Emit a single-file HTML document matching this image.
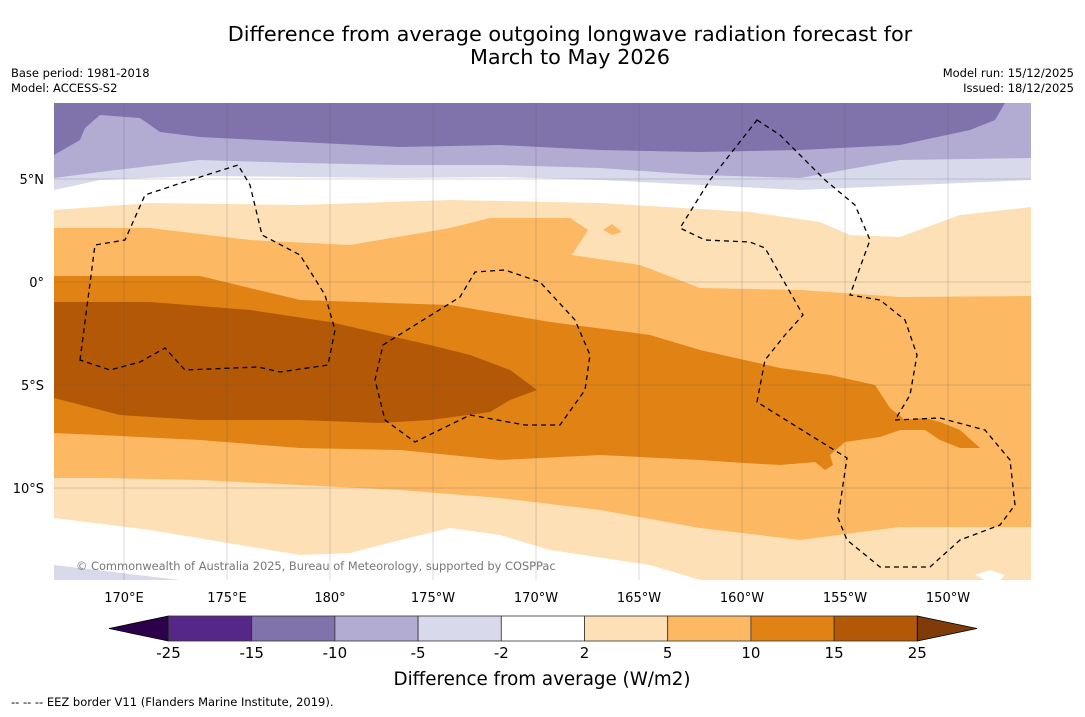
<!DOCTYPE html>
<html><head><meta charset="utf-8"><style>
body{margin:0;background:#fff;width:1085px;height:713px;overflow:hidden;font-family:"DejaVu Sans","Liberation Sans",sans-serif;}
svg text{font-family:"DejaVu Sans","Liberation Sans",sans-serif;}
</style></head><body>
<svg width="1085" height="713">
<text x="570" y="41" font-size="20.8" text-anchor="middle">Difference from average outgoing longwave radiation forecast for</text>
<text x="570" y="64" font-size="20.8" text-anchor="middle">March to May 2026</text>
<text x="11" y="77" font-size="11.5">Base period: 1981-2018</text>
<text x="11" y="92" font-size="11.5">Model: ACCESS-S2</text>
<text x="1074" y="77" font-size="11.5" text-anchor="end">Model run: 15/12/2025</text>
<text x="1074" y="92" font-size="11.5" text-anchor="end">Issued: 18/12/2025</text>
<defs><clipPath id="mc"><rect x="54" y="103" width="977" height="477"/></clipPath></defs>
<g clip-path="url(#mc)">
<rect x="54" y="103" width="977" height="477" fill="#fff"/>
<path fill="#d8daeb" d="M54,103 L1031,103 L1031,180 L800,190 700,185 600,180 500,177 400,178 300,177 200,176 100,180 54,190 Z"/>
<path fill="#b2abd2" d="M54,103 L1031,103 L1031,158 L900,160 800,178 700,175 600,168 500,165 400,165 300,163 200,160 100,172 54,178 Z"/>
<path fill="#8073ac" d="M54,103 L1005,103 995,120 970,130 900,145 800,150 700,152 600,150 500,145 400,147 300,142 200,137 160,132 140,118 100,115 85,128 80,140 54,155 Z"/>
<path fill="#fee0b6" d="M54,210 L150,203 300,205 450,200 600,203 750,212 820,222 850,235 900,237 960,215 1031,207 L1031,580 L700,580 650,565 550,550 500,535 450,528 400,540 350,553 300,555 150,530 54,518 Z"/>
<path fill="#d8daeb" d="M54,565 L180,580 L54,580 Z"/>
<path fill="#fff" d="M975,575 L990,570 1005,575 1000,580 985,580 Z"/>
<path fill="#fdb863" d="M54,228 L150,228 250,240 350,245 450,228 490,218 570,218 588,230 572,255 640,265 700,288 800,290 900,297 1031,296 L1031,527 L900,527 800,540 700,528 600,510 500,498 400,490 300,485 200,480 100,478 54,478 Z M603,230 L612,224 622,232 612,235 Z"/>
<path fill="#e08214" d="M54,276 L200,276 300,300 450,305 550,322 650,335 700,350 780,368 830,375 875,385 890,408 905,420 925,418 940,422 960,430 980,448 960,448 940,440 925,430 900,430 880,437 845,442 830,455 833,465 825,470 815,462 780,465 745,463 700,460 600,455 500,460 400,450 300,448 200,440 100,435 54,433 Z"/>
<path fill="#b35806" d="M54,302 L150,302 250,310 330,322 430,345 470,355 510,370 537,390 510,400 490,412 430,420 380,423 300,420 200,420 120,415 54,398 Z"/>
<g stroke="#555" stroke-width="0.5" opacity="0.45" id="grat"></g>
<g fill="none" stroke="#000" stroke-width="1.3" stroke-dasharray="5,4">
<path d="M80,360 L95,245 L125,240 L145,195 L175,185 L238,165 L250,185 L262,235 L300,255 L325,295 L335,330 L328,365 L280,372 L258,367 L185,370 L165,348 L140,362 L110,370 Z"/>
<path d="M383,345 L460,297 L475,272 L505,270 L540,282 L575,320 L590,355 L585,390 L560,425 L525,425 L470,415 L415,442 L385,420 L375,380 Z"/>
<path d="M757,120 L780,135 L825,180 L855,205 L870,240 L850,295 L880,300 L905,320 L917,355 L910,395 L895,420 L940,418 L985,430 L1010,460 L1015,505 L1000,525 L960,540 L930,567 L880,567 L847,540 L838,518 L847,458 L757,402 L765,360 L785,335 L803,315 L765,248 L750,242 L705,240 L680,228 L710,180 Z"/>
</g>
<text x="76" y="570" font-size="11.4" fill="#777">© Commonwealth of Australia 2025, Bureau of Meteorology, supported by COSPPac</text>
</g>
<g id="axes"></g>
<g id="cbar"></g>
<text x="542" y="685" font-size="18.3" text-anchor="middle">Difference from average (W/m2)</text>
<text x="11" y="706" font-size="11.5">--  --  -- EEZ border V11 (Flanders Marine Institute, 2019).</text>
</svg>
<script>
const lonLabels=["170°E","175°E","180°","175°W","170°W","165°W","160°W","155°W","150°W"];
const latLabels=["5°N","0°","5°S","10°S"];
const levels=["-25","-15","-10","-5","-2","2","5","10","15","25"];
const colors=["#542788","#8073ac","#b2abd2","#d8daeb","#ffffff","#fee0b6","#fdb863","#e08214","#b35806"];
const ns="http://www.w3.org/2000/svg";
const lonX=i=>124+i*103, latY=i=>179+i*103;
const grat=document.getElementById('grat'), ax=document.getElementById('axes'), cb=document.getElementById('cbar');
function mk(tag,attrs,parent){const e=document.createElementNS(ns,tag);for(const k in attrs)e.setAttribute(k,attrs[k]);parent.appendChild(e);return e;}
lonLabels.forEach((l,i)=>{
 const ln=mk('line',{x1:lonX(i),x2:lonX(i),y1:103,y2:580},grat);
 
 
 const t=mk('text',{x:lonX(i),y:602,'font-size':13,'text-anchor':'middle'},ax);t.textContent=l;
 
 
});
latLabels.forEach((l,i)=>{
 const ln=mk('line',{x1:54,x2:1031,y1:latY(i),y2:latY(i)},grat);
 
 
 const t=mk('text',{x:44,y:latY(i)+5,'font-size':13,'text-anchor':'end'},ax);t.textContent=l;
 
 
});
const bx=i=>168.5+i*83.2, y0=616, h=25;
const lt=mk('polygon',{points:`109,${y0+h/2} ${bx(0)},${y0} ${bx(0)},${y0+h}`,fill:'#2d004b',stroke:'#000','stroke-width':0.8},cb);


colors.forEach((c,i)=>{
 const r=mk('rect',{x:bx(i),y:y0,width:83.2,height:h,fill:c,stroke:'#333','stroke-width':0.8},cb);
 
 
});
const n=colors.length;
const rt=mk('polygon',{points:`${bx(n)},${y0} 977,${y0+h/2} ${bx(n)},${y0+h}`,fill:'#7f3b08',stroke:'#000','stroke-width':0.8},cb);


levels.forEach((l,i)=>{
 const t=mk('text',{x:bx(i),y:658,'font-size':15,'text-anchor':'middle'},cb);t.textContent=l;
 
 
});
</script>
</body></html>
